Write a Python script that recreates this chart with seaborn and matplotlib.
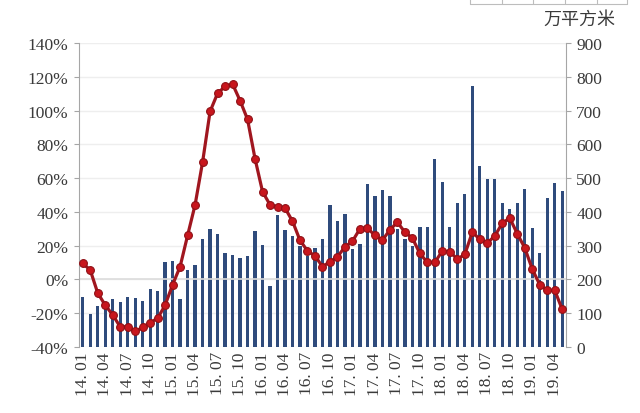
import numpy as np
import pandas as pd
import matplotlib
matplotlib.use("Agg")
import matplotlib.pyplot as plt
from matplotlib.ticker import FuncFormatter, MultipleLocator
from matplotlib.lines import Line2D
import seaborn as sns

# ---------------- data ----------------
years = ["14", "15", "16", "17", "18", "19"]
months = [f"{y}. {m:02d}" for y in years for m in range(1, 13)][:65]   # 14.01 .. 19.05

area_2014 = [149, 99, 122, 125, 141, 133, 147, 145, 135, 173, 165, 253]
area_2015 = [256, 143, 229, 242, 321, 350, 334, 277, 271, 264, 270, 343]
area_2016 = [302, 180, 391, 346, 330, 300, 270, 292, 319, 421, 374, 394]
area_2017 = [290, 305, 482, 446, 465, 448, 350, 320, 300, 355, 355, 557]
area_2018 = [489, 355, 426, 453, 772, 536, 497, 497, 426, 410, 426, 467]
area_2019 = [352, 277, 440, 485, 461]
area = area_2014 + area_2015 + area_2016 + area_2017 + area_2018 + area_2019

yoy_2014 = [9.5, 5.6, -8.0, -15.2, -21.0, -28.0, -28.0, -30.8, -28.4, -25.5, -23.0, -15.2]
yoy_2015 = [-3.1, 7.6, 26.1, 44.2, 69.5, 99.5, 110.2, 114.3, 115.7, 105.9, 94.8, 71.5]
yoy_2016 = [52.0, 44.2, 43.0, 42.3, 34.5, 23.2, 16.9, 14.0, 7.6, 10.5, 13.4, 19.3]
yoy_2017 = [22.6, 30.0, 30.4, 26.1, 23.2, 29.4, 33.9, 28.0, 24.5, 15.4, 10.1, 10.1]
yoy_2018 = [16.9, 16.4, 12.1, 14.8, 28.0, 23.8, 21.6, 25.7, 33.3, 36.4, 27.1, 18.7]
yoy_2019 = [6.2, -3.1, -6.4, -6.4, -17.7]
yoy = yoy_2014 + yoy_2015 + yoy_2016 + yoy_2017 + yoy_2018 + yoy_2019

tick_labels = months[::3]
unit_label = "万平方米"

df = pd.DataFrame({"month": months, "area": area, "yoy": yoy, "idx": np.arange(len(months))})

# ---------------- style ----------------
sns.set_style("white")
plt.rcParams["font.family"] = ["Liberation Serif", "Noto Sans CJK SC", "DejaVu Sans"]
text_col = "#3a3a3a"
axis_col = "#a6a6a6"
bar_col = "#2f4b7c"
line_col = "#a0161f"

fig = plt.figure(figsize=(6.4, 4.14), dpi=100)
ax = fig.add_axes([0.1234, 0.1594, 0.7609, 0.7343])
ax2 = ax.twinx()

# bars on right axis
sns.barplot(data=df, x="month", y="area", ax=ax2, color=bar_col, saturation=1,
            width=0.44, linewidth=0, order=months)
ax2.set_ylim(0, 900)
ax2.yaxis.set_major_locator(MultipleLocator(100))
ax2.grid(axis="y", color="#eeeeee", linewidth=1)
ax2.set_axisbelow(True)
ax2.set_ylabel("")
ax2.set_xlabel("")

# line on left axis
ax.set_zorder(ax2.get_zorder() + 1)
ax.patch.set_visible(False)
ax.axhline(0, color="#dcdcdc", linewidth=1.2, zorder=1)
sns.lineplot(data=df, x="idx", y="yoy", ax=ax, color=line_col, linewidth=2.3,
             marker="o", markersize=5.6, markerfacecolor="#c8161d",
             markeredgecolor="#8e1016", markeredgewidth=0.8, zorder=3)
ax.set_ylim(-40, 140)
ax.yaxis.set_major_locator(MultipleLocator(20))
ax.yaxis.set_major_formatter(FuncFormatter(lambda v, p: f"{int(round(v))}%"))
ax.set_xlim(-0.5, len(months) - 0.5)
ax.set_xticks(np.arange(0, len(months), 3))
ax.set_xticklabels(tick_labels, rotation=90)
ax.set_xlabel("")
ax.set_ylabel("")

for a in (ax, ax2):
    for s in a.spines.values():
        s.set_visible(False)
ax.spines["left"].set_visible(True)
ax.spines["left"].set_color(axis_col)
ax2.spines["right"].set_visible(True)
ax2.spines["right"].set_color(axis_col)

ax.tick_params(axis="y", left=True, length=3.5, width=0.8, color=axis_col,
               labelsize=12.5, labelcolor=text_col, pad=4)
ax.tick_params(axis="x", bottom=False, length=0, labelsize=12.5,
               labelcolor=text_col, pad=3)
ax2.tick_params(axis="y", right=True, length=3.5, width=0.8, color=axis_col,
                labelsize=12.5, labelcolor=text_col, pad=4)

fig.text(0.905, 0.952, unit_label, ha="center", va="center", fontsize=13,
         color=text_col)

# fragment of a table at the top edge of the screenshot
tab_col = "#bdbdbd"
fig.add_artist(Line2D([470 / 640, 627 / 640], [1 - 5 / 414, 1 - 5 / 414],
                      color=tab_col, linewidth=0.8))
for xp in [470, 502, 533, 565, 597, 627]:
    fig.add_artist(Line2D([xp / 640, xp / 640], [1 - 5 / 414, 1.0],
                          color=tab_col, linewidth=0.8))

fig.savefig("out.png", dpi=100, facecolor="white")
